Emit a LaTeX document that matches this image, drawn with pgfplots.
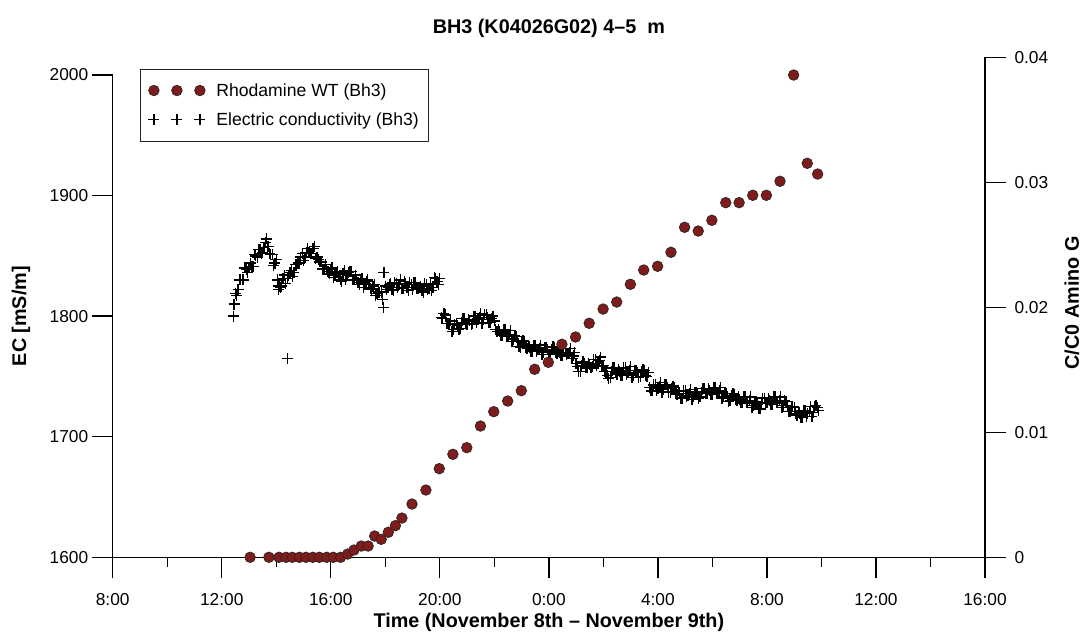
\documentclass[border=0pt]{standalone}
\usepackage{pgfplots}
\pgfplotsset{compat=1.18}
\usepackage{fontspec}
\setmainfont{Liberation Sans}
\definecolor{dotred}{RGB}{128,27,27}
\begin{document}
\begin{tikzpicture}
\useasboundingbox (0pt,0pt) rectangle (1088pt,642pt);
\pgfplotsset{
  base/.style={scale only axis, width=872.3pt, xmin=8, xmax=40,
    at={(112.7pt,84.7pt)}, anchor=south west, clip=false,
    tick align=outside, major tick length=21pt, minor tick length=10pt,
    every tick/.style={black, line width=1.3pt},
    axis line style={-, black, line width=1.3pt},
    /pgf/number format/assume math mode=true,
    /pgf/number format/1000 sep={},
    tick label style={font=\fontsize{17.3}{20}\selectfont},
    label style={font=\bfseries\fontsize{19.8}{23}\selectfont}},
  dotstyle/.style={only marks, mark=*, mark size=5.3pt,
    mark options={fill=dotred, draw=black!85, line width=0.7pt}},
  threemarks/.style={legend image code/.code={\draw[##1, mark repeat=1, mark phase=1] plot coordinates {(0pt,0pt) (23pt,0pt) (46pt,0pt)};}},
  ecstyle/.style={only marks, mark=+, mark size=5.5pt, black, line width=1.3pt},
}
\begin{axis}[base, height=482.3pt, ymin=1600, ymax=2000,
  ytick={1600,1700,1800,1900,2000},
  axis x line*=bottom, axis y line*=left,
  xtick={8,12,16,20,24,28,32,36,40},
  xticklabels={8:00,12:00,16:00,20:00,0:00,4:00,8:00,12:00,16:00},
  xticklabel style={yshift=-12pt},
  minor xtick={10,14,18,22,26,30,34,38},
  xlabel={Time (November 8th – November 9th)},
  xlabel style={at={(axis description cs:0.5,0)}, anchor=center, yshift=-65.5pt},
  ylabel={EC [mS/m]},
  ylabel style={at={(axis description cs:0,0.5)}, anchor=center, yshift=91.7pt},
  legend cell align=left,
  legend style={at={(axis description cs:0.0313,1.0124)}, anchor=north west,
    draw=black!85, line width=0.8pt, font=\fontsize{17.6}{20}\selectfont,
    inner xsep=8pt, inner ysep=12pt, row sep=11pt,
    /tikz/every odd column/.append style={column sep=9pt}},
]
\addlegendimage{dotstyle, threemarks}
\addlegendentry{Rhodamine WT (Bh3)}
\addplot[ecstyle, threemarks] table {
x y
12.42 1800
12.45 1810
12.5 1819
12.6 1822
12.7 1830
12.8 1830
12.9 1839
13.0 1840
13.1 1841
13.2 1851
13.3 1849
13.4 1855
13.5 1853
13.6 1861
13.65 1864
13.7 1858
13.8 1851
13.9 1842
14.0 1847
14.07 1822
14.1 1825
14.2 1825
14.3 1834
14.4 1831
14.4 1765
14.5 1836
14.6 1833
14.7 1843
14.8 1844
14.9 1849
15.0 1846
15.1 1853
15.2 1853
15.3 1852
15.4 1858
15.5 1849
15.6 1845
15.7 1839
15.8 1843
15.9 1837
16.0 1839
16.1 1832
16.2 1836
16.3 1833
16.4 1829
16.5 1838
16.6 1834
16.7 1837
16.8 1830
16.9 1834
17.0 1828
17.1 1830
17.2 1824
17.3 1829
17.4 1826
17.5 1822
17.6 1826
17.7 1819
17.8 1820
17.9 1814
17.93 1807
17.95 1836
18.0 1825
18.1 1824
18.2 1827
18.3 1821
18.4 1827
18.5 1826
18.6 1823
18.7 1829
18.8 1824
18.9 1828
19.0 1822
19.1 1828
19.2 1823
19.3 1825
19.4 1820
19.5 1826
19.6 1823
19.7 1821
19.8 1832
19.9 1829
20.0 1831
20.05 1799
20.15 1802
20.25 1794
20.35 1794
20.45 1787
20.55 1793
20.65 1792
20.75 1790
20.85 1798
20.95 1794
21.05 1797
21.15 1793
21.25 1800
21.35 1795
21.45 1799
21.55 1794
21.65 1801
21.75 1799
21.85 1795
21.95 1800
22.05 1789
22.15 1789
22.25 1784
22.35 1789
22.45 1783
22.55 1785
22.65 1779
22.75 1784
22.85 1780
22.95 1774
23.05 1780
23.15 1774
23.25 1776
23.35 1771
23.45 1776
23.55 1771
23.65 1773
23.75 1768
23.85 1774
23.95 1772
24.05 1768
24.15 1775
24.25 1770
24.35 1772
24.45 1767
24.55 1773
24.65 1768
24.75 1770
24.85 1765
24.95 1770
25.05 1758
25.15 1754
25.25 1762
25.35 1757
25.45 1761
25.55 1757
25.65 1764
25.75 1759
25.85 1763
25.95 1758
26.05 1754
26.15 1751
26.25 1749
26.35 1757
26.45 1753
26.55 1756
26.65 1751
26.75 1757
26.85 1752
26.95 1755
27.05 1749
27.15 1755
27.25 1753
27.35 1750
27.45 1756
27.55 1751
27.65 1753
27.75 1738
27.85 1743
27.95 1738
28.05 1742
28.15 1737
28.25 1743
28.35 1741
28.45 1737
28.55 1742
28.65 1736
28.75 1738
28.85 1732
28.95 1738
29.05 1733
29.15 1736
29.25 1731
29.35 1737
29.45 1735
29.55 1733
29.65 1740
29.75 1736
29.85 1740
29.95 1735
30.05 1741
30.15 1736
30.25 1738
30.35 1732
30.45 1736
30.55 1733
30.65 1730
30.75 1736
30.85 1731
30.95 1733
31.05 1728
31.15 1733
31.25 1728
31.35 1730
31.45 1724
31.55 1729
31.65 1727
31.75 1723
31.85 1732
31.95 1728
32.05 1732
32.15 1727
32.25 1733
32.35 1728
32.45 1730
32.55 1724
32.65 1730
32.75 1726
32.85 1721
32.95 1725
33.05 1719
33.15 1721
33.25 1716
33.35 1722
33.45 1717
33.55 1721
33.65 1717
33.75 1725
33.85 1724
33.9 1722
};
\addlegendentry{Electric conductivity (Bh3)}
\addplot[ecstyle, forget plot] table {
x y
12.55 1817
12.65 1830
12.75 1830
12.85 1840
12.95 1836
13.05 1844
13.15 1841
13.25 1850
13.35 1855
13.45 1852
13.55 1857
13.75 1852
13.85 1851
13.95 1844
14.05 1830
14.15 1824
14.25 1831
14.35 1827
14.45 1834
14.55 1838
14.65 1836
14.75 1843
14.85 1844
14.95 1852
15.05 1849
15.15 1856
15.25 1852
15.35 1856
15.45 1848
15.55 1847
15.65 1845
15.75 1839
15.85 1839
15.95 1835
16.05 1840
16.15 1834
16.25 1837
16.35 1830
16.45 1835
16.55 1830
16.65 1836
16.75 1837
16.85 1830
16.95 1830
17.05 1826
17.15 1831
17.25 1826
17.35 1830
17.45 1823
17.55 1825
17.65 1817
17.75 1820
17.85 1820
18.05 1822
18.15 1826
18.25 1822
18.35 1828
18.45 1824
18.55 1830
18.65 1823
18.75 1827
18.85 1821
18.95 1826
19.05 1828
19.15 1823
19.25 1824
19.35 1821
19.45 1827
19.55 1822
19.65 1827
19.75 1824
19.85 1831
19.95 1826
20.1 1798
20.2 1801
20.3 1794
20.4 1796
20.5 1789
20.6 1794
20.7 1789
20.8 1795
20.9 1798
21.0 1793
21.1 1796
21.2 1794
21.3 1800
21.4 1797
21.5 1802
21.6 1797
21.7 1801
21.8 1795
21.9 1798
22.0 1796
22.1 1787
22.2 1787
22.3 1784
22.4 1789
22.5 1784
22.6 1788
22.7 1781
22.8 1783
22.9 1775
23.0 1778
23.1 1779
23.2 1773
23.3 1774
23.4 1771
23.5 1776
23.6 1772
23.7 1776
23.8 1770
23.9 1774
24.0 1768
24.1 1772
24.2 1774
24.3 1769
24.4 1770
24.5 1767
24.6 1773
24.7 1769
24.8 1773
24.9 1767
25.0 1761
25.1 1754
25.2 1759
25.3 1761
25.4 1757
25.5 1760
25.6 1758
25.7 1764
25.8 1761
25.9 1766
26.0 1759
26.1 1754
26.2 1748
26.3 1754
26.4 1757
26.5 1752
26.6 1754
26.7 1751
26.8 1757
26.9 1753
27.0 1758
27.1 1751
27.2 1755
27.3 1749
27.4 1754
27.5 1755
27.6 1750
27.7 1741
27.8 1738
27.9 1743
28.0 1740
28.1 1745
28.2 1739
28.3 1743
28.4 1737
28.5 1740
28.6 1741
28.7 1735
28.8 1736
28.9 1732
29.0 1738
29.1 1734
29.2 1739
29.3 1733
29.4 1737
29.5 1732
29.6 1737
29.7 1740
29.8 1736
29.9 1738
30.0 1735
30.1 1741
30.2 1737
30.3 1741
30.4 1733
30.5 1736
30.6 1729
30.7 1734
30.8 1735
30.9 1730
31.0 1731
31.1 1728
31.2 1733
31.3 1729
31.4 1733
31.5 1726
31.6 1729
31.7 1723
31.8 1728
31.9 1732
32.0 1728
32.1 1730
32.2 1727
32.3 1733
32.4 1729
32.5 1733
32.6 1726
32.7 1729
32.8 1721
32.9 1724
33.0 1724
33.1 1718
33.2 1719
33.3 1716
33.4 1722
33.5 1719
33.6 1725
33.7 1720
33.8 1726
};
\end{axis}
\begin{axis}[base, height=500pt, ymin=0, ymax=0.04,
  axis y line*=right, hide x axis,
  ytick={0,0.01,0.02,0.03,0.04},
  scaled y ticks=false,
  yticklabel style={/pgf/number format/.cd, fixed, precision=2, /tikz/.cd, xshift=5pt},
  ylabel={C/C0 Amino G},
  ylabel style={at={(axis description cs:1,0.509)}, anchor=center, yshift=-87pt},
]
\addplot[dotstyle] table {
x y
13.04 0
13.73 0
14.10 0
14.36 0
14.59 0
14.85 0
15.09 0
15.34 0
15.58 0
15.85 0
16.09 0
16.36 0
16.62 0.00026
16.85 0.00058
17.12 0.0009
17.37 0.0009
17.61 0.0017
17.85 0.00144
18.11 0.0020
18.37 0.00253
18.61 0.00314
18.98 0.00426
19.49 0.00538
19.98 0.00709
20.48 0.00824
20.99 0.00877
21.49 0.0105
21.98 0.01165
22.49 0.0125
22.99 0.01333
23.48 0.01504
23.98 0.0156
24.48 0.01704
24.98 0.01762
25.48 0.01872
25.99 0.01986
26.49 0.02042
26.99 0.02184
27.48 0.02298
27.99 0.02328
28.48 0.0244
28.98 0.0264
29.48 0.0261
29.98 0.02696
30.49 0.02837
30.98 0.02837
31.48 0.02896
31.98 0.02896
32.48 0.03008
32.98 0.03858
33.48 0.03152
33.86 0.03066
};
\end{axis}
\node[font=\bfseries\fontsize{19.8}{23}\selectfont] at (548.9pt,614pt) {BH3 (K04026G02) 4–5\ \ m};
\end{tikzpicture}
\end{document}
